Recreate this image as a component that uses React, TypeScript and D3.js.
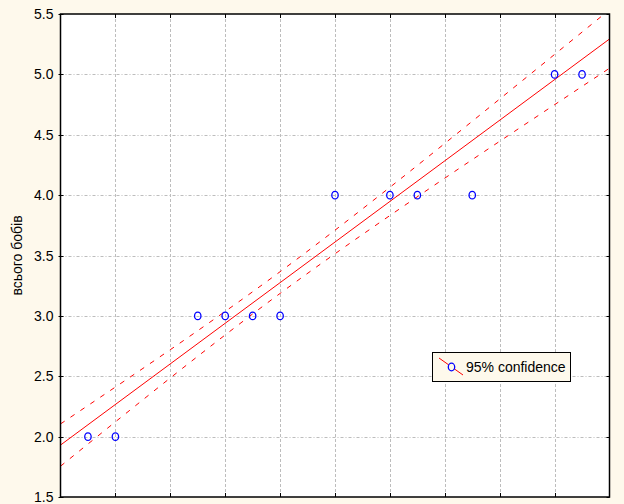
import React from "react";
import * as d3 from "d3";

// observed points
const pointX = [0.5, 1, 2.5, 3, 3.5, 4, 5, 6, 6.5, 7.5, 9, 9.5];
const pointY = [2, 2, 3, 3, 3, 3, 4, 4, 4, 4, 5, 5];

// regression line
const fitX = [0, 10];
const fitY = [1.93, 5.293];

// 95% confidence band
const bandX = [0, 2, 4, 6, 8, 10];
const bandUpper = [2.105, 2.72, 3.366, 4.065, 4.796, 5.535];
const bandLower = [1.755, 2.486, 3.186, 3.831, 4.446, 5.051];

const yTicks = [1.5, 2.0, 2.5, 3.0, 3.5, 4.0, 4.5, 5.0, 5.5];
const xTicks = [0, 1, 2, 3, 4, 5, 6, 7, 8, 9, 10];

const yLabel = "всього бобів";
const legendLabel = "95% confidence";

const W = 624;
const H = 504;
const M = { left: 60.5, right: 609.5, top: 14, bottom: 497 };

export default function App() {
  const x = d3.scaleLinear().domain([0, 10]).range([M.left, M.right]);
  const y = d3.scaleLinear().domain([1.5, 5.5]).range([M.bottom, M.top]);

  const lineGen = d3
    .line<[number, number]>()
    .x((d) => x(d[0]))
    .y((d) => y(d[1]));
  const curveGen = d3
    .line<[number, number]>()
    .x((d) => x(d[0]))
    .y((d) => y(d[1]))
    .curve(d3.curveNatural);

  const fitPath = lineGen(fitX.map((v, i) => [v, fitY[i]]) as [number, number][]) || "";
  const upPath = curveGen(bandX.map((v, i) => [v, bandUpper[i]]) as [number, number][]) || "";
  const loPath = curveGen(bandX.map((v, i) => [v, bandLower[i]]) as [number, number][]) || "";

  const font = "'Liberation Sans', Arial, sans-serif";
  const pw = M.right - M.left;
  const ph = M.bottom - M.top;

  return (
    <>
      <style>{`body{margin:0;background:#FEF9EC}`}</style>
      <svg width={W} height={H} style={{ display: "block" }} fontFamily={font}>
        <rect x={0} y={0} width={W} height={H} fill="#FEF9EC" />
        <defs>
          <clipPath id="plotClip">
            <rect x={M.left} y={M.top} width={pw} height={ph} />
          </clipPath>
        </defs>
        <rect x={M.left} y={M.top} width={pw} height={ph} fill="#FFFFFF" />

        {/* grid */}
        {xTicks.slice(1, -1).map((t) => (
          <line
            key={"gx" + t}
            x1={Math.round(x(t)) + 0.5}
            x2={Math.round(x(t)) + 0.5}
            y1={M.top}
            y2={M.bottom}
            stroke="#BDBDBD"
            strokeWidth={1}
            strokeDasharray="3,2"
          />
        ))}
        {yTicks.slice(1, -1).map((t) => (
          <line
            key={"gy" + t}
            x1={M.left}
            x2={M.right}
            y1={Math.round(y(t)) + 0.5}
            y2={Math.round(y(t)) + 0.5}
            stroke="#BDBDBD"
            strokeWidth={1}
            strokeDasharray="3,2,1,2"
          />
        ))}

        {/* fit and band */}
        <g clipPath="url(#plotClip)">
          <path d={fitPath} fill="none" stroke="#FF0000" strokeWidth={1} />
          <path d={upPath} fill="none" stroke="#FF0000" strokeWidth={1} strokeDasharray="5,7" />
          <path d={loPath} fill="none" stroke="#FF0000" strokeWidth={1} strokeDasharray="5,7" />
        </g>

        {/* points */}
        {pointX.map((v, i) => (
          <ellipse
            key={"p" + i}
            cx={x(v)}
            cy={y(pointY[i])}
            rx={3.2}
            ry={3.8}
            fill="none"
            stroke="#0000FF"
            strokeWidth={1.3}
          />
        ))}

        {/* frame */}
        <rect
          x={M.left}
          y={M.top}
          width={pw}
          height={ph}
          fill="none"
          stroke="#000000"
          strokeWidth={1.5}
        />

        {/* ticks */}
        {xTicks.slice(1, -1).map((t) => (
          <g key={"tx" + t}>
            <line x1={Math.round(x(t)) + 0.5} x2={Math.round(x(t)) + 0.5} y1={M.top} y2={M.top + 4} stroke="#000" strokeWidth={1} />
            <line x1={Math.round(x(t)) + 0.5} x2={Math.round(x(t)) + 0.5} y1={M.bottom} y2={M.bottom - 4} stroke="#000" strokeWidth={1} />
          </g>
        ))}
        {yTicks.map((t) => (
          <g key={"ty" + t}>
            <line x1={M.left - 2} x2={M.left + 3} y1={Math.round(y(t)) + 0.5} y2={Math.round(y(t)) + 0.5} stroke="#000" strokeWidth={1} />
            <line x1={M.right} x2={M.right - 3} y1={Math.round(y(t)) + 0.5} y2={Math.round(y(t)) + 0.5} stroke="#000" strokeWidth={1} />
            <text
              x={M.left - 7}
              y={y(t)}
              dy="0.36em"
              textAnchor="end"
              fontSize={14}
              fill="#000"
            >
              {d3.format(".1f")(t)}
            </text>
          </g>
        ))}

        {/* y label */}
        <text
          transform={`translate(22,${(M.top + M.bottom) / 2}) rotate(-90)`}
          textAnchor="middle"
          fontSize={14}
          fill="#000"
        >
          {yLabel}
        </text>

        {/* legend */}
        <g>
          <rect x={432.5} y={352.5} width={138} height={29} fill="#FEF9EC" stroke="#000" strokeWidth={1} />
          <line x1={439} y1={358} x2={463} y2={375} stroke="#FF0000" strokeWidth={1} />
          <ellipse cx={451.5} cy={367} rx={3.2} ry={3.8} fill="#FEF9EC" stroke="#0000FF" strokeWidth={1.3} />
          <text x={466} y={372} fontSize={14} fill="#000">
            {legendLabel}
          </text>
        </g>
      </svg>
    </>
  );
}
